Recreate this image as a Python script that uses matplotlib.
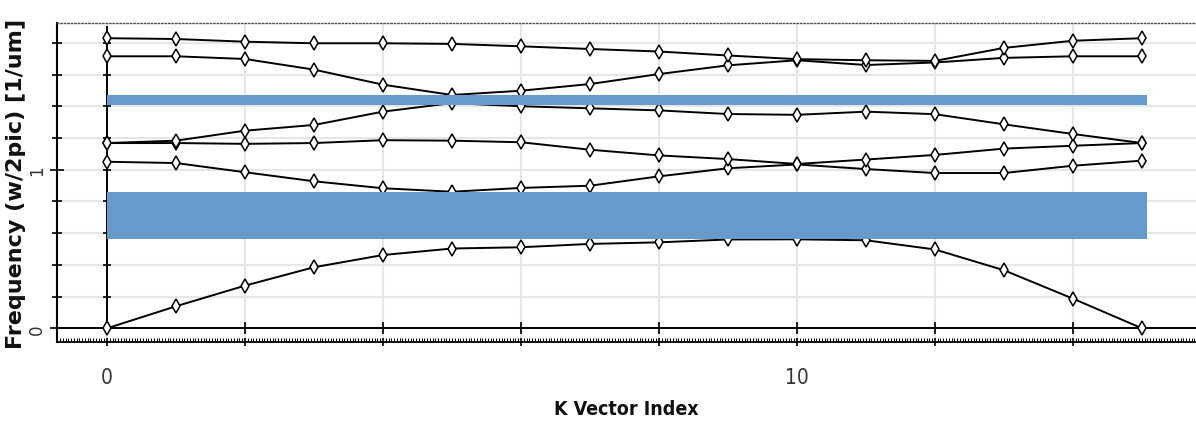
import matplotlib
matplotlib.use("Agg")
import matplotlib.pyplot as plt
from matplotlib import font_manager
from matplotlib.ticker import FixedLocator, MultipleLocator
import numpy as np

# band structure (6 bands, 16 k points)
k_index = list(range(16))
band1 = [0.000, 0.139, 0.269, 0.385, 0.462, 0.503, 0.511, 0.532,
         0.542, 0.560, 0.561, 0.555, 0.497, 0.366, 0.187, 0.000]
band2 = [1.050, 1.042, 0.984, 0.927, 0.883, 0.861, 0.885, 0.899,
         0.958, 1.009, 1.033, 1.004, 0.979, 0.979, 1.025, 1.057]
band3 = [1.168, 1.168, 1.163, 1.168, 1.186, 1.183, 1.173, 1.126,
         1.090, 1.067, 1.036, 1.064, 1.093, 1.133, 1.151, 1.168]
band4 = [1.168, 1.183, 1.246, 1.282, 1.366, 1.420, 1.400, 1.387,
         1.374, 1.351, 1.346, 1.366, 1.350, 1.286, 1.225, 1.168]
band5 = [1.715, 1.715, 1.698, 1.631, 1.536, 1.471, 1.498, 1.540,
         1.603, 1.658, 1.690, 1.660, 1.676, 1.705, 1.715, 1.715]
band6 = [1.829, 1.824, 1.807, 1.797, 1.797, 1.793, 1.778, 1.761,
         1.745, 1.720, 1.697, 1.690, 1.686, 1.768, 1.813, 1.829]
bands = [band1, band2, band3, band4, band5, band6]

# band gaps
gap_low = [0.563, 1.405]
gap_high = [0.861, 1.468]
gap_k_start = 0
gap_k_end = 15.08

x_ticks = [0, 2, 4, 6, 8, 10, 12, 14]
x_tick_labels = ["0", "", "", "", "", "10", "", ""]
y_ticks = [0, 1]
y_tick_labels = ["0", "1"]

installed = {f.name for f in font_manager.fontManager.ttflist}
if "Liberation Sans Narrow" in installed:
    narrow = dict(family="Liberation Sans Narrow")
    xtick_size, xlabel_size = 18, 17
else:
    narrow = dict(family="DejaVu Sans", stretch="condensed")
    xtick_size, xlabel_size = 15, 14

XLO, XHI = -0.7246, 15.783
YLO, YHI = -0.0845, 1.923

fig = plt.figure(figsize=(11.96, 4.27), dpi=100)
ax = fig.add_axes([57 / 1196, 84.3 / 427, 1139 / 1196, 318.4 / 427])
ax.set_xlim(XLO, XHI)
ax.set_ylim(YLO, YHI)

for b in bands:
    ax.plot(k_index, b, color="black", lw=1.4, marker="d", ms=7.2,
            mfc="white", mec="black", mew=1.1, zorder=3)

for lo, hi in zip(gap_low, gap_high):
    ax.fill_between([gap_k_start, gap_k_end], lo, hi, color="#6699cc",
                    lw=0, zorder=4)

# zero axes with their own little ticks
ax.axhline(0, color="black", lw=1.4, zorder=2)
ax.axvline(0, ymin=(0 - YLO) / (YHI - YLO), ymax=(1.9 - YLO) / (YHI - YLO),
           color="black", lw=1.4, zorder=2)
zx = np.array(x_ticks[1:])
ax.plot(zx, np.zeros(len(zx)), ls="none", marker="|", ms=8, mew=1.2,
        color="black", zorder=2)
zy = np.arange(1, 10) * 0.2
ax.plot(np.zeros(len(zy)), zy, ls="none", marker="_", ms=6, mew=1.2,
        color="black", zorder=2)

# frame
ax.spines["right"].set_visible(False)
ax.spines["left"].set_linewidth(1.5)
ax.spines["bottom"].set_linewidth(1.3)
ax.spines["top"].set_linestyle((0, (1, 1.5)))
ax.spines["top"].set_color("#555555")
ax.spines["top"].set_linewidth(1.0)

ax.xaxis.set_major_locator(FixedLocator(x_ticks))
ax.xaxis.set_minor_locator(MultipleLocator(0.04))
ax.yaxis.set_major_locator(FixedLocator(y_ticks))
ax.yaxis.set_minor_locator(MultipleLocator(0.2))
ax.set_xticks(x_ticks, x_tick_labels, fontsize=xtick_size, color="#333333", **narrow)
ax.set_yticks(y_ticks, y_tick_labels, fontsize=12, color="#333333",
              rotation=90, va="center")

ax.tick_params(axis="x", which="major", direction="inout", length=6,
               width=1.2, pad=15, top=False)
ax.tick_params(axis="x", which="minor", direction="in", length=3,
               width=0.7, top=False)
ax.tick_params(axis="y", which="major", direction="inout", length=10,
               width=1.2, pad=3, right=False)
ax.tick_params(axis="y", which="minor", direction="inout", length=7,
               width=1.2, right=False)

ax.xaxis.grid(True, which="major", color="#e6e6e6", lw=1.5)
ax.yaxis.grid(True, which="both", color="#e6e6e6", lw=1.5)
ax.set_axisbelow(True)

ax.set_xlabel("K Vector Index", fontsize=xlabel_size, fontweight="bold",
              color="#111111", labelpad=9, **narrow)
ax.set_ylabel("Frequency (w/2pic) [1/um]", fontsize=16, fontweight="bold",
              color="#111111", family="DejaVu Sans")
ax.yaxis.set_label_coords(-0.027, 0.5)

fig.savefig("out.png", dpi=100)
